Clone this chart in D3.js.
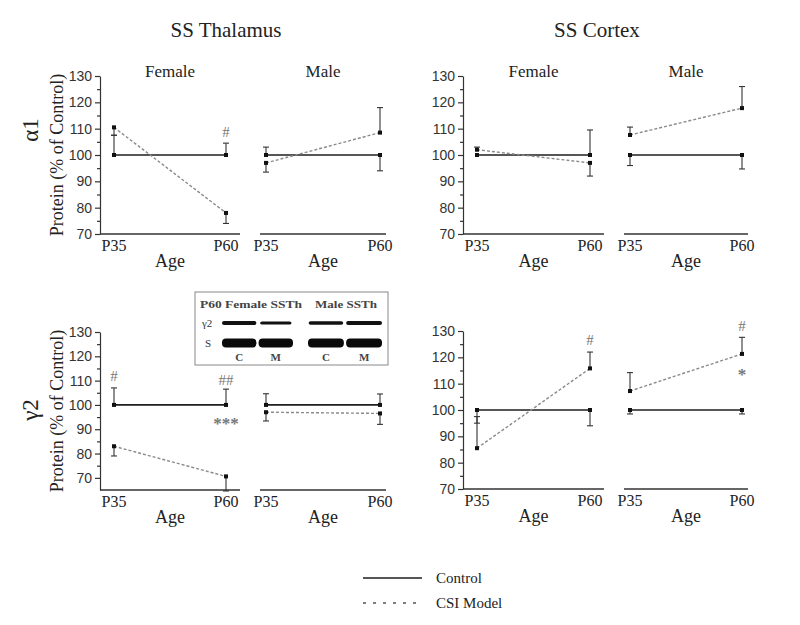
<!DOCTYPE html>
<html><head><meta charset="utf-8">
<script src="https://cdn.jsdelivr.net/npm/d3@7"></script>
<style>body{margin:0;background:#fff}</style>
</head><body><svg id="c" width="800" height="625"></svg>
<script>
// ---------- data ----------
const ages = ["P35", "P60"];
const regions = ["SS Thalamus", "SS Cortex"];
const subunits = ["α1", "γ2"];
const sexes = ["Female", "Male"];
const seriesNames = ["Control", "CSI Model"];
const yTickValues = [70, 80, 90, 100, 110, 120, 130];
const yMinorTicks = [75, 85, 95, 105, 115, 125];

// values at [P35, P60]; errors signed (+ drawn upward, - drawn downward)
const thalA1FemaleControl = [100, 100], thalA1FemaleControlErr = [7.5, 4.5];
const thalA1FemaleCSI = [110.5, 78], thalA1FemaleCSIErr = [-3, -4];
const thalA1MaleControl = [100, 100], thalA1MaleControlErr = [3, -6];
const thalA1MaleCSI = [97, 108.5], thalA1MaleCSIErr = [-3.5, 9.5];

const ctxA1FemaleControl = [100, 100], ctxA1FemaleControlErr = [0, 9.5];
const ctxA1FemaleCSI = [102, 97], ctxA1FemaleCSIErr = [1, -5];
const ctxA1MaleControl = [100, 100], ctxA1MaleControlErr = [-4, -5.3];
const ctxA1MaleCSI = [107.6, 117.8], ctxA1MaleCSIErr = [3, 8.2];

const thalG2FemaleControl = [100, 100], thalG2FemaleControlErr = [7, 6.5];
const thalG2FemaleCSI = [83, 70.6], thalG2FemaleCSIErr = [-4, -6];
const thalG2MaleControl = [100, 100], thalG2MaleControlErr = [4.6, 4.5];
const thalG2MaleCSI = [97, 96.5], thalG2MaleCSIErr = [-3.6, -4.5];

const ctxG2FemaleControl = [100, 100], ctxG2FemaleControlErr = [-5, -6];
const ctxG2FemaleCSI = [85.5, 115.8], ctxG2FemaleCSIErr = [12, 6.2];
const ctxG2MaleControl = [100, 100], ctxG2MaleControlErr = [-1.5, -1.5];
const ctxG2MaleCSI = [107.2, 121.3], ctxG2MaleCSIErr = [7, 6.3];

// significance marks: [subunit, region, sex, age, value, text]
const marks = [
  ["α1", "SS Thalamus", "Female", "P60", 109, "#"],
  ["γ2", "SS Thalamus", "Female", "P35", 111.8, "#"],
  ["γ2", "SS Thalamus", "Female", "P60", 110.5, "##"],
  ["γ2", "SS Thalamus", "Female", "P60", 95, "***"],
  ["γ2", "SS Cortex", "Female", "P60", 126.6, "#"],
  ["γ2", "SS Cortex", "Male", "P60", 132, "#"],
  ["γ2", "SS Cortex", "Male", "P60", 116, "*"]
];

// western blot inset
const blotTitles = ["P60 Female SSTh", "Male SSTh"];
const blotRows = ["γ2", "S"];
const blotLanes = ["C", "M"];
const blotGamma2 = [[1.0, 0.75], [0.9, 1.0]];   // relative band strength
const blotS = [[1.0, 1.0], [1.0, 1.0]];

// ---------- assemble ----------
const series = {
  "α1|SS Thalamus|Female": [[thalA1FemaleControl, thalA1FemaleControlErr], [thalA1FemaleCSI, thalA1FemaleCSIErr]],
  "α1|SS Thalamus|Male": [[thalA1MaleControl, thalA1MaleControlErr], [thalA1MaleCSI, thalA1MaleCSIErr]],
  "α1|SS Cortex|Female": [[ctxA1FemaleControl, ctxA1FemaleControlErr], [ctxA1FemaleCSI, ctxA1FemaleCSIErr]],
  "α1|SS Cortex|Male": [[ctxA1MaleControl, ctxA1MaleControlErr], [ctxA1MaleCSI, ctxA1MaleCSIErr]],
  "γ2|SS Thalamus|Female": [[thalG2FemaleControl, thalG2FemaleControlErr], [thalG2FemaleCSI, thalG2FemaleCSIErr]],
  "γ2|SS Thalamus|Male": [[thalG2MaleControl, thalG2MaleControlErr], [thalG2MaleCSI, thalG2MaleCSIErr]],
  "γ2|SS Cortex|Female": [[ctxG2FemaleControl, ctxG2FemaleControlErr], [ctxG2FemaleCSI, ctxG2FemaleCSIErr]],
  "γ2|SS Cortex|Male": [[ctxG2MaleControl, ctxG2MaleControlErr], [ctxG2MaleCSI, ctxG2MaleCSIErr]]
};

// ---------- layout ----------
const SERIF = "'Liberation Serif','Times New Roman',serif";
const SANS = "'Liberation Sans',Arial,sans-serif";
const rowLayout = {
  "α1": {"SS Thalamus": {dom: [70, 130], rng: [234, 76]}, "SS Cortex": {dom: [70, 130], rng: [234, 76]}, labelY: 130},
  "γ2": {"SS Thalamus": {dom: [65, 130], rng: [490, 332]}, "SS Cortex": {dom: [70, 130], rng: [489, 331]}, labelY: 410}
};
const colLayout = {
  "SS Thalamus": {axisX: 100, Female: [114, 226], Male: [266, 380], titleX: 226},
  "SS Cortex": {axisX: 463, Female: [477, 590], Male: [630, 742], titleX: 597}
};
const styles = [
  {stroke: "#1e1e1e", width: 1.6, dash: null},
  {stroke: "#8a8a8a", width: 1.4, dash: "3,2"}
];

const svg = d3.select("#c");
svg.append("rect").attr("width", 800).attr("height", 625).attr("fill", "#fff");

// region titles
regions.forEach(r => {
  svg.append("text").attr("x", colLayout[r].titleX).attr("y", 37)
    .attr("text-anchor", "middle").attr("font-family", SERIF).attr("font-size", 21)
    .attr("fill", "#222").text(r);
});
// subunit labels + y titles
subunits.forEach(s => {
  const ly = rowLayout[s].labelY;
  svg.append("text").attr("transform", `translate(38,${ly}) rotate(-90)`)
    .attr("text-anchor", "middle").attr("font-family", SERIF).attr("font-size", 23)
    .attr("fill", "#222").text(s);
  const yl = rowLayout[s]["SS Thalamus"];
  const cy = (yl.rng[0] + yl.rng[1]) / 2;
  svg.append("text").attr("transform", `translate(63,${cy}) rotate(-90)`)
    .attr("text-anchor", "middle").attr("font-family", SERIF).attr("font-size", 18)
    .attr("fill", "#222").text("Protein (% of Control)");
});

subunits.forEach(sub => {
  regions.forEach(reg => {
    const yl = rowLayout[sub][reg];
    const y = d3.scaleLinear().domain(yl.dom).range(yl.rng);
    const col = colLayout[reg];
    const baseY = yl.rng[0];

    // y axis on female panel
    const ax = svg.append("g").attr("transform", `translate(${col.axisX},0)`);
    ax.call(d3.axisLeft(y).tickValues(yTickValues).tickSize(5).tickSizeOuter(0).tickPadding(3));
    ax.append("g").call(d3.axisLeft(y).tickValues(yMinorTicks).tickSize(3).tickSizeOuter(0).tickFormat(""))
      .select(".domain").remove();
    ax.selectAll("path,line").attr("stroke", "#333").attr("stroke-width", 1.2);
    ax.selectAll("text").attr("font-family", SANS).attr("font-size", 14).attr("fill", "#333");

    sexes.forEach(sex => {
      const xr = col[sex];
      const x = d3.scalePoint().domain(ages).range(xr);
      const g = svg.append("g");
      // baseline
      const x0 = sex === "Female" ? col.axisX : xr[0] - 6;
      g.append("line").attr("x1", x0).attr("x2", xr[1] + (sex === "Female" ? 14 : 6))
        .attr("y1", baseY).attr("y2", baseY).attr("stroke", "#333").attr("stroke-width", 1.4);
      // x labels
      ages.forEach(a => {
        g.append("text").attr("x", x(a)).attr("y", baseY + 17).attr("text-anchor", "middle")
          .attr("font-family", SERIF).attr("font-size", 16).attr("fill", "#222").text(a);
      });
      g.append("text").attr("x", (xr[0] + xr[1]) / 2).attr("y", baseY + 33).attr("text-anchor", "middle")
        .attr("font-family", SERIF).attr("font-size", 18).attr("fill", "#222").text("Age");
      if (sub === "α1") {
        g.append("text").attr("x", (xr[0] + xr[1]) / 2).attr("y", 77)
          .attr("text-anchor", "middle").attr("font-family", SERIF).attr("font-size", 17)
          .attr("fill", "#222").text(sex);
      }
      const ser = series[`${sub}|${reg}|${sex}`];
      ser.forEach(([vals, errs], si) => {
        const st = styles[si];
        const pts = ages.map((a, i) => ({a, v: vals[i], e: errs[i]}));
        // error bars
        pts.forEach(p => {
          if (!p.e) return;
          const px = x(p.a);
          g.append("line").attr("x1", px).attr("x2", px).attr("y1", y(p.v)).attr("y2", y(p.v + p.e))
            .attr("stroke", "#333").attr("stroke-width", 1.1);
          g.append("line").attr("x1", px - 3).attr("x2", px + 3).attr("y1", y(p.v + p.e)).attr("y2", y(p.v + p.e))
            .attr("stroke", "#333").attr("stroke-width", 1.1);
        });
        g.append("path").datum(pts)
          .attr("d", d3.line().x(d => x(d.a)).y(d => y(d.v)))
          .attr("fill", "none").attr("stroke", st.stroke).attr("stroke-width", st.width)
          .attr("stroke-dasharray", st.dash);
        g.selectAll(null).data(pts).enter().append("rect")
          .attr("x", d => x(d.a) - 2).attr("y", d => y(d.v) - 2).attr("width", 4).attr("height", 4)
          .attr("fill", "#111");
      });
      // significance marks
      marks.filter(m => m[0] === sub && m[1] === reg && m[2] === sex).forEach(m => {
        const star = m[5].includes("*");
        g.append("text").attr("x", x(m[3])).attr("y", y(m[4]))
          .attr("dy", star ? "0.7em" : "0.35em").attr("text-anchor", "middle")
          .attr("font-family", SERIF).attr("font-size", star ? 17 : 15)
          .attr("font-weight", star ? "bold" : "normal")
          .attr("fill", "#777").text(m[5]);
      });
    });
  });
});

// ---------- blot inset ----------
const ins = svg.append("g");
ins.append("rect").attr("x", 195).attr("y", 292).attr("width", 193).attr("height", 73)
  .attr("fill", "#fff").attr("stroke", "#888").attr("stroke-width", 1);
const groupRanges = [[222, 293], [308, 382]];
const titleLens = [102, 62];
blotTitles.forEach((t, i) => {
  ins.append("text").attr("x", i === 0 ? 200 : 315).attr("y", 308)
    .attr("font-family", SERIF).attr("font-size", 11).attr("font-weight", "bold")
    .attr("textLength", titleLens[i]).attr("lengthAdjust", "spacingAndGlyphs")
    .attr("fill", "#444").text(t);
});
const rowY = {"γ2": 323, "S": 343};
blotRows.forEach(r => {
  ins.append("text").attr("x", r === "S" ? 205 : 202).attr("y", rowY[r]).attr("dy", "0.35em")
    .attr("font-family", SERIF).attr("font-size", 11).attr("fill", "#333").text(r);
});
groupRanges.forEach((gr, gi) => {
  const xb = d3.scaleBand().domain(blotLanes).range(gr).paddingInner(0.06);
  blotLanes.forEach((l, li) => {
    const g2 = blotGamma2[gi][li];
    const w = xb.bandwidth() * (0.65 + 0.35 * g2);
    const cx = xb(l) + xb.bandwidth() / 2;
    ins.append("rect").attr("x", cx - w / 2).attr("y", rowY["γ2"] - 1.7 * g2 - 0.3)
      .attr("width", w).attr("height", 3.4 * g2 + 0.6).attr("rx", 2)
      .attr("fill", "#111");
    const s = blotS[gi][li];
    const hs = 9 * s;
    ins.append("rect").attr("x", xb(l)).attr("y", rowY["S"] - hs / 2)
      .attr("width", xb.bandwidth()).attr("height", hs).attr("rx", 4).attr("ry", 4)
      .attr("fill", "#0a0a0a");
    ins.append("text").attr("x", cx).attr("y", 361).attr("text-anchor", "middle")
      .attr("font-family", SERIF).attr("font-size", 11).attr("font-weight", "bold")
      .attr("fill", "#444").text(l);
  });
});

// ---------- legend ----------
seriesNames.forEach((n, i) => {
  const ly = 578 + i * 25;
  svg.append("line").attr("x1", 363).attr("x2", 422).attr("y1", ly).attr("y2", ly)
    .attr("stroke", i === 0 ? "#1e1e1e" : "#555").attr("stroke-width", i === 0 ? 1.6 : 1.3)
    .attr("stroke-dasharray", i === 0 ? null : "3,7");
  svg.append("text").attr("x", 436).attr("y", ly + 5).attr("font-family", SERIF)
    .attr("font-size", 15).attr("fill", "#222").text(n);
});
</script></body></html>
